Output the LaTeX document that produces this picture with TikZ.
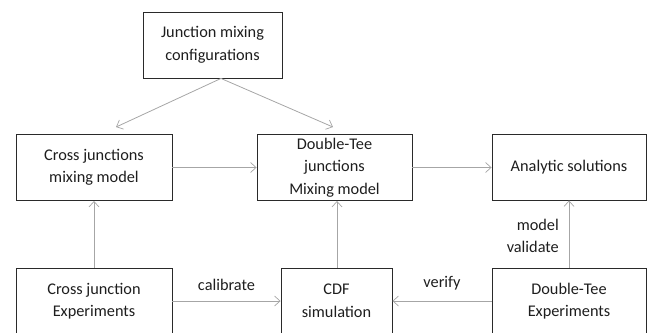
\documentclass[tikz,border=0pt]{standalone}
\usepackage{fontspec}
\setmainfont{Carlito}
\usetikzlibrary{arrows.meta,calc}
\definecolor{boxline}{HTML}{2A2A2A}
\definecolor{connline}{HTML}{A6A6A6}
\definecolor{txt}{HTML}{1E1E1E}
\begin{document}
\begin{tikzpicture}[x=1pt,y=-1pt,
  every node/.style={font=\fontsize{16.3}{22.5}\selectfont, text=txt},
  stage/.style={draw=boxline, line width=0.9pt, align=center, inner sep=0pt, fill=white},
  conn/.style={draw=connline, line width=0.8pt, -{Straight Barb[length=5.5pt,width=10pt,line width=0.7pt]}},
  lbl/.style={inner sep=0pt}]
\useasboundingbox (0,0) rectangle (647,332);
\clip (0,0) rectangle (647,332);

% top source
\node[stage, minimum width=139pt, minimum height=66pt] (cfg) at (212.5,45) {Junction mixing\\configurations};

% middle row: models and solutions
\node[stage, minimum width=156pt, minimum height=66pt] (cmodel) at (94,167.5) {Cross junctions\\mixing model};
\node[stage, minimum width=155pt, minimum height=66pt] (dmodel) at (334.5,167.5) {Double-Tee\\junctions\\Mixing model};
\node[stage, minimum width=154pt, minimum height=66pt] (analytic) at (569,167) {Analytic solutions};

% bottom row: experiments and simulation
\node[stage, minimum width=156pt, minimum height=66pt] (cexp) at (94,301) {Cross junction\\Experiments};
\node[stage, minimum width=111pt, minimum height=66pt] (cdf) at (336.5,301) {CDF\\simulation};
\node[stage, minimum width=154pt, minimum height=66pt] (dexp) at (569,301) {Double-Tee\\Experiments};

% split point under the configurations box
\coordinate (split) at ($(cfg.south)+(8.5,0)$);
\draw[conn] (split) -- ($(cmodel.north)+(22,-7)$);
\draw[conn] (split) -- ($(dmodel.north)+(-1.5,-7)$);

% horizontal flow between models
\draw[conn] (cmodel.east) -- (dmodel.west);
\draw[conn] (dmodel.east) -- (dmodel.east -| analytic.west);

% upward links
\coordinate (cdftop) at ($(cdf.north)+(0.5,0)$);
\draw[conn] (cexp.north) -- (cmodel.south);
\draw[conn] (cdftop) -- (cdftop |- dmodel.south);
\draw[conn] (dexp.north) -- (dexp.north |- analytic.south);

% links into the simulation
\draw[conn] (cexp.east) -- (cdf.west) node[lbl, midway, above=10pt] {calibrate};
\draw[conn] (dexp.west) -- (cdf.east) node[lbl, midway, above=10pt] {verify};

% label beside the validation link
\node[lbl, align=right, anchor=east] (mv) at (559,236) {model\\validate};
\end{tikzpicture}
\end{document}
